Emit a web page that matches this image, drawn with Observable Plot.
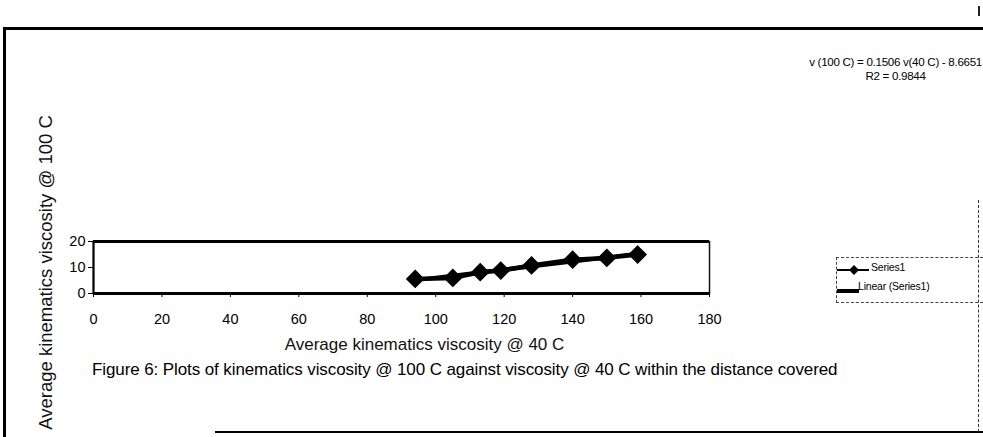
<!DOCTYPE html>
<html>
<head>
<meta charset="utf-8">
<script src="https://cdn.jsdelivr.net/npm/d3@7"></script>
<script src="https://cdn.jsdelivr.net/npm/@observablehq/plot@0.6"></script>
<style>
  html, body { margin: 0; padding: 0; background: #fff; }
  #wrap { position: relative; width: 983px; height: 437px; overflow: hidden; font-family: "Liberation Sans", Arial, sans-serif; color: #000; }
  #chart { position: absolute; left: 0; top: 0; }
  .abs { position: absolute; white-space: nowrap; }
</style>
</head>
<body>
<div id="wrap">
  <div id="chart"></div>
</div>
<script>
// ---- data ----
const visc40 = [94, 105, 113, 119, 128, 140, 150, 159];
const visc100 = [5.6, 6.0, 8.2, 8.8, 10.8, 13.0, 13.7, 15.0];
const xTicks = [0, 20, 40, 60, 80, 100, 120, 140, 160, 180];
const yTicks = [0, 10, 20];
const xTitle = "Average kinematics viscosity @ 40 C";
const yTitle = "Average kinematics viscosity @ 100 C";
const caption = "Figure 6: Plots of kinematics viscosity @ 100 C against viscosity @ 40 C within the distance covered";
const eqLine1 = "v (100 C) = 0.1506 v(40 C) - 8.6651";
const eqLine2 = "R2 = 0.9844";
const seriesName = "Series1";
const trendName = "Linear (Series1)";

const data = visc40.map((x, i) => ({x, y: visc100[i]}));

const plot = Plot.plot({
  width: 983,
  height: 437,
  marginLeft: 93,
  marginRight: 274,
  marginTop: 241,
  marginBottom: 144,
  style: {fontFamily: "Liberation Sans, Arial, sans-serif", fontSize: "14.5px", color: "#000", background: "transparent"},
  x: {domain: [0, 180]},
  y: {domain: [0, 20]},
  marks: [
    Plot.frame({stroke: "#111", strokeWidth: 1.5}),
    Plot.ruleY([0, 20], {stroke: "#000", strokeWidth: 3}),
    Plot.ruleX([0], {stroke: "#000", strokeWidth: 2}),
    Plot.axisX({ticks: xTicks, tickSize: 4, tickPadding: 16, label: null, tickFormat: d => d}),
    Plot.axisY({ticks: yTicks, tickSize: 5, tickPadding: 3, label: null, tickFormat: d => d}),
    Plot.linearRegressionY(data, {x: "x", y: "y", ci: 0, stroke: "#000", strokeWidth: 4}),
    Plot.line(data, {x: "x", y: "y", stroke: "#000", strokeWidth: 4.5}),
    Plot.dot(data, {x: "x", y: "y", symbol: "diamond2", r: 7.5, fill: "#000", stroke: "#000"}),
    Plot.text([yTitle], {frameAnchor: "left", rotate: -90, dx: -47, dy: 5, fontSize: 18.5, textAnchor: "middle", fill: "#111"}),
    Plot.text([xTitle], {frameAnchor: "bottom-left", dx: 331, dy: 56, fontSize: 17, textAnchor: "middle", fill: "#111"})
  ]
});
document.getElementById("chart").appendChild(plot);

const wrap = document.getElementById("wrap");
function add(html, css) {
  const d = document.createElement("div");
  d.className = "abs";
  d.innerHTML = html;
  Object.assign(d.style, css);
  wrap.appendChild(d);
  return d;
}
// outer frame of the scanned page
add("", {left: "3px", top: "27px", width: "985px", height: "0", borderTop: "3px solid #000"});
add("", {left: "3px", top: "27px", width: "0", height: "420px", borderLeft: "3px solid #000"});
add("", {left: "215px", top: "431px", width: "780px", height: "0", borderTop: "2px solid #000"});
add("", {left: "978px", top: "200px", width: "0", height: "232px", borderLeft: "1.5px dashed #333"});
add("", {left: "978px", top: "6px", width: "2px", height: "10px", background: "#222"});

// trendline equation (right-aligned to the page edge, second line centred under it)
add(`<div>${eqLine1}</div><div>${eqLine2}</div>`, {right: "1px", top: "55px", fontSize: "11.6px", letterSpacing: "-0.3px", lineHeight: "14px", textAlign: "center"});

// legend
add("", {left: "836px", top: "257px", width: "160px", height: "44px", border: "1px dashed #444"});
add(`<svg width="36" height="12"><line x1="0" y1="6" x2="32" y2="6" stroke="#000" stroke-width="2"/><path d="M17 1 L22 6 L17 11 L12 6 Z" fill="#000"/></svg>`, {left: "837px", top: "262px"});
add(seriesName, {left: "871px", top: "261px", fontSize: "10.5px", letterSpacing: "-0.2px"});
add(`<svg width="24" height="10"><line x1="0" y1="5" x2="22" y2="5" stroke="#000" stroke-width="4"/></svg>`, {left: "837px", top: "282px"});
add(trendName, {left: "858px", top: "280px", fontSize: "10.5px", letterSpacing: "-0.2px"});

// caption
add(caption, {left: "92px", top: "360px", fontSize: "17px", letterSpacing: "-0.1px"});
</script>
</body>
</html>
